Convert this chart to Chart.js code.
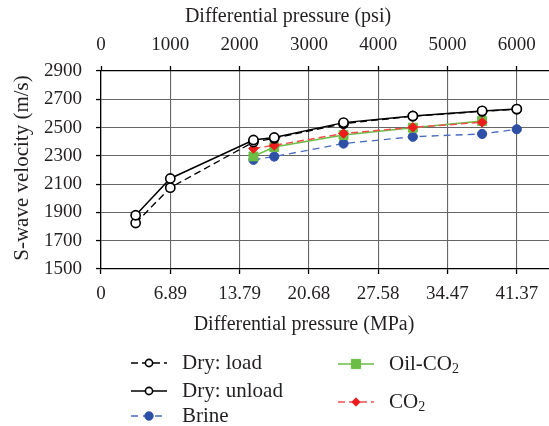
<!DOCTYPE html>
<html>
<head>
<meta charset="utf-8">
<script src="https://cdn.jsdelivr.net/npm/chart.js@4.4.1/dist/chart.umd.min.js"></script>
<style>
    html, body { margin: 0; padding: 0; background: #fff; overflow: hidden; }
    #wrap { position: relative; width: 557px; height: 426px; }
</style>
</head>
<body>
<div id="wrap"><canvas id="chart"></canvas></div>
<script>
// Differential pressure (psi) at each measurement step
const pressurePsi = [500, 1000, 2200, 2500, 3500, 4500, 5500, 6000];
const psiTicks = [0, 1000, 2000, 3000, 4000, 5000, 6000];
const mpaLabels = ['0', '6.89', '13.79', '20.68', '27.58', '34.47', '41.37'];

// S-wave velocity (m/s)
const dryLoad = [1825, 2075, 2398, 2424, 2528, 2580, 2615, 2630];
const dryUnload = [1880, 2140, 2412, 2430, 2535, 2582, 2618, 2631];
const brine = [null, null, 2272, 2295, 2387, 2435, 2455, 2488];
const oilCO2 = [null, null, 2296, 2362, 2447, 2499, 2546, null];
const co2 = [null, null, 2352, 2374, 2458, 2502, 2537, null];

const FONT = '"Liberation Serif", "DejaVu Serif", serif';
const TEXT = '#231f20';

function pts(values) {
    return pressurePsi.map((p, i) => ({ x: p, y: values[i] })).filter(d => d.y !== null);
}

// Axis titles + two-column legend, drawn on the canvas
const extrasPlugin = {
    id: 'extras',
    afterDraw(chart) {
        const ctx = chart.ctx;
        ctx.save();
        ctx.fillStyle = TEXT;
        ctx.font = '20px ' + FONT;
        ctx.textAlign = 'center';
        ctx.textBaseline = 'middle';
        ctx.fillText('Differential pressure (psi)', 288, 17);
        ctx.fillText('Differential pressure (MPa)', 304, 325);
        ctx.save();
        ctx.translate(22, 168);
        ctx.rotate(-Math.PI / 2);
        ctx.font = '21px ' + FONT;
        ctx.fillText('S-wave velocity (m/s)', 0, 0);
        ctx.restore();

        const slots = [
            { x: 131, y: 363 }, { x: 131, y: 391 }, { x: 131, y: 416 },
            { x: 338, y: 364 }, { x: 338, y: 402 }
        ];
        chart.data.datasets.forEach((ds, i) => {
            const s = slots[i];
            ctx.save();
            ctx.strokeStyle = ds.borderColor;
            ctx.lineWidth = ds.borderWidth;
            ctx.setLineDash(ds.borderDash || []);
            ctx.beginPath();
            ctx.moveTo(s.x, s.y);
            ctx.lineTo(s.x + 36, s.y);
            ctx.stroke();
            ctx.setLineDash([]);
            ctx.fillStyle = ds.pointBackgroundColor;
            ctx.strokeStyle = ds.pointBorderColor;
            ctx.lineWidth = ds.pointBorderWidth;
            Chart.helpers.drawPoint(ctx, {
                pointStyle: ds.pointStyle,
                radius: ds.legendRadius,
                rotation: 0,
                borderWidth: ds.pointBorderWidth
            }, s.x + 18, s.y);
            ctx.restore();

            ctx.fillStyle = TEXT;
            ctx.textAlign = 'left';
            ctx.textBaseline = 'middle';
            ctx.font = '21px ' + FONT;
            const tx = s.x + 51;
            const m = ds.label.match(/^(.*CO)2$/);
            if (m) {
                ctx.fillText(m[1], tx, s.y);
                const w = ctx.measureText(m[1]).width;
                ctx.font = '14px ' + FONT;
                ctx.fillText('2', tx + w, s.y + 5);
            } else {
                ctx.fillText(ds.label, tx, s.y);
            }
        });
        ctx.restore();
    }
};

const gridDots = {
    color: '#666',
    lineWidth: 1.1,
    borderDash: [1.1, 8.5],
    tickColor: '#000',
    tickBorderDash: [],
    tickLength: 5,
    tickWidth: 1.3
};

new Chart(document.getElementById('chart'), {
    type: 'line',
    data: {
        datasets: [
            {
                label: 'Dry: load', data: pts(dryLoad), order: 2,
                borderColor: '#000', borderWidth: 1.3, borderDash: [7, 4],
                pointStyle: 'circle', pointRadius: 4.6, legendRadius: 3.6,
                pointBackgroundColor: '#fff', pointBorderColor: '#000', pointBorderWidth: 1.6
            },
            {
                label: 'Dry: unload', data: pts(dryUnload), order: 1,
                borderColor: '#000', borderWidth: 1.5,
                pointStyle: 'circle', pointRadius: 4.6, legendRadius: 3.6,
                pointBackgroundColor: '#fff', pointBorderColor: '#000', pointBorderWidth: 1.6
            },
            {
                label: 'Brine', data: pts(brine), order: 5,
                borderColor: '#4a6cc0', borderWidth: 1.3, borderDash: [7, 5],
                pointStyle: 'circle', pointRadius: 4.6, legendRadius: 4.2,
                pointBackgroundColor: '#2d4fa6', pointBorderColor: '#2d4fa6', pointBorderWidth: 1
            },
            {
                label: 'Oil-CO2', data: pts(oilCO2), order: 4,
                borderColor: '#6cbd45', borderWidth: 1.5,
                pointStyle: 'rect', pointRadius: 6.3, legendRadius: 6.5,
                pointBackgroundColor: '#6cbd45', pointBorderColor: '#6cbd45', pointBorderWidth: 1
            },
            {
                label: 'CO2', data: pts(co2), order: 3,
                borderColor: '#f05050', borderWidth: 1.5, borderDash: [7, 4],
                pointStyle: 'rectRot', pointRadius: 4.8, legendRadius: 4.2,
                pointBackgroundColor: '#ee1c1c', pointBorderColor: '#ee1c1c', pointBorderWidth: 1
            }
        ]
    },
    options: {
        responsive: true,
        maintainAspectRatio: false,
        animation: false,
        layout: { padding: 0 },
        plugins: {
            legend: { display: false },
            tooltip: { enabled: false }
        },
        scales: {
            x: {
                type: 'linear', position: 'bottom', min: 0, max: 6475,
                afterBuildTicks: s => { s.ticks = psiTicks.map(v => ({ value: v })); },
                afterFit: s => { s.height = 157; },
                grid: gridDots,
                border: { color: '#000', width: 1.3 },
                ticks: {
                    padding: 9, color: TEXT, font: { family: FONT, size: 19 },
                    maxRotation: 0, autoSkip: false,
                    callback: (v, i) => mpaLabels[i]
                }
            },
            x2: {
                type: 'linear', position: 'top', min: 0, max: 6475,
                afterBuildTicks: s => { s.ticks = psiTicks.map(v => ({ value: v })); },
                afterFit: s => { s.height = 71; },
                grid: { drawOnChartArea: false, tickColor: '#000', tickLength: 5, tickWidth: 1.3 },
                border: { color: '#000', width: 1.3 },
                ticks: {
                    padding: 10, color: TEXT, font: { family: FONT, size: 19 },
                    maxRotation: 0, autoSkip: false,
                    callback: v => String(v)
                }
            },
            y: {
                min: 1500, max: 2900,
                afterFit: s => { s.width = 101; },
                grid: gridDots,
                border: { color: '#000', width: 1.3 },
                ticks: {
                    stepSize: 200, padding: 14, color: TEXT,
                    font: { family: FONT, size: 19 },
                    callback: v => String(v)
                }
            }
        }
    },
    plugins: [extrasPlugin]
});
</script>
</body>
</html>
